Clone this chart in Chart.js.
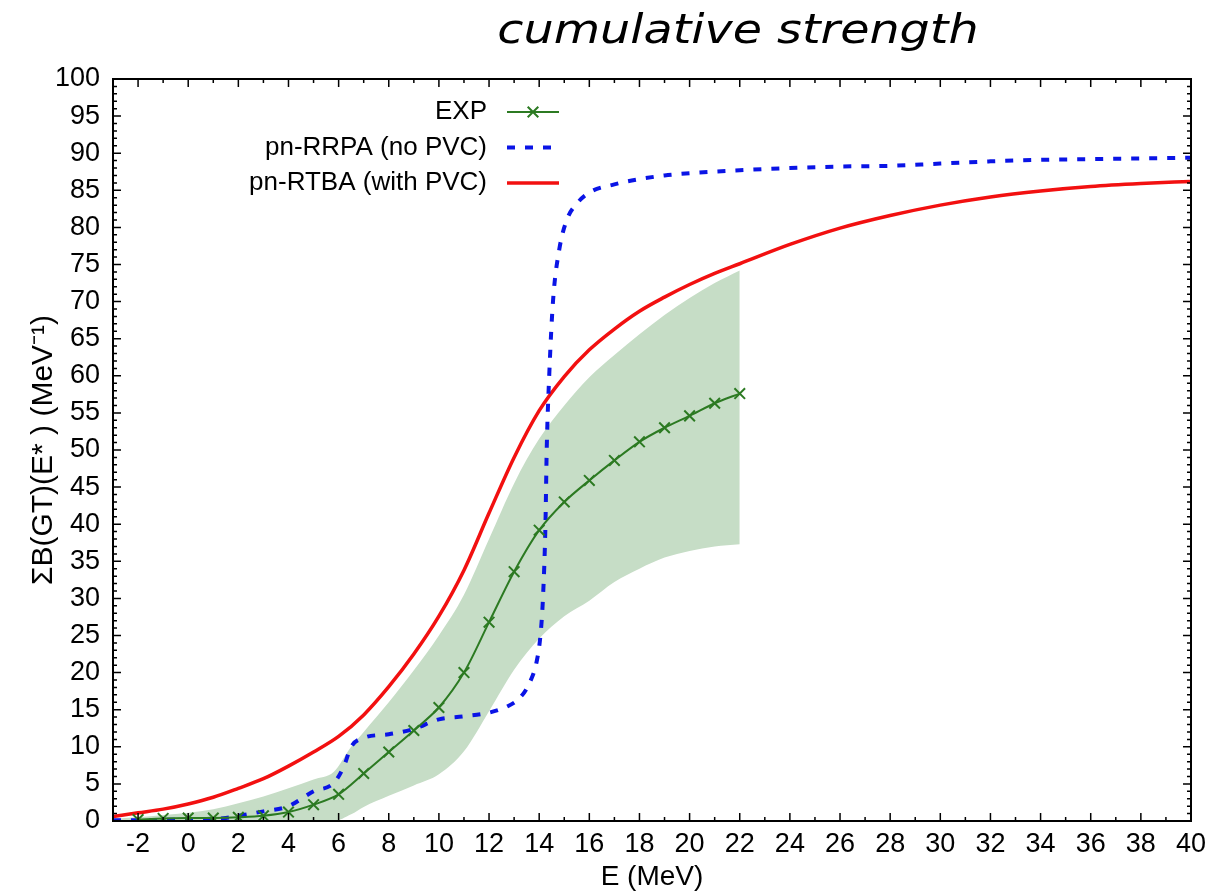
<!DOCTYPE html>
<html><head><meta charset="utf-8">
<script src="https://cdn.jsdelivr.net/npm/chart.js@4.4.0/dist/chart.umd.min.js"></script>
<style>
html,body{margin:0;padding:0;background:#fff;}
#wrap{position:relative;width:1231px;height:895px;overflow:hidden;}
#title{position:absolute;left:738px;top:5px;transform:translateX(-50%) scaleX(1.19);font-family:"DejaVu Sans",sans-serif;font-style:italic;font-size:40px;line-height:48px;white-space:nowrap;color:#000;}
</style></head><body>
<div id="wrap"><canvas id="c" width="1231" height="895"></canvas><div id="title">cumulative strength</div></div>
<script>
// ---- data ----
const xTickValues = [-2,0,2,4,6,8,10,12,14,16,18,20,22,24,26,28,30,32,34,36,38,40];
const yTickValues = [0,5,10,15,20,25,30,35,40,45,50,55,60,65,70,75,80,85,90,95,100];

const expLabel = 'EXP';
const expE = [-2,-1,0,1,2,3,4,5,6,7,8,9,10,11,12,13,14,15,16,17,18,19,20,21,22];
const expB = [0.2,0.35,0.4,0.4,0.5,0.7,1.2,2.2,3.6,6.4,9.3,12.2,15.3,20.0,26.8,33.6,39.2,43.0,45.9,48.6,51.1,53.0,54.6,56.3,57.6];

const rrpaLabel = 'pn-RRPA (no PVC)';
const rrpaE = [-3,-2,-1,0,1,1.5,2,3,4,5,5.8,6.2,6.5,7,8,9,10,11,12,12.7,13.2,13.6,13.9,14.05,14.15,14.25,14.3,14.4,14.55,14.8,15.1,15.5,16,17,18,19,20,22,24,26,28,30,32,34,36,38,40];
const rrpaB = [0.1,0.1,0.15,0.2,0.3,0.4,0.7,1.3,2.0,4.0,5.1,7.3,10.0,11.2,11.7,12.4,13.7,14.1,14.6,15.4,16.5,18.5,21.5,25,30,40,50,60,70,77,81,83.2,84.7,85.8,86.5,87.0,87.3,87.7,88.0,88.2,88.3,88.6,88.9,89.1,89.2,89.3,89.4];

const rtbaLabel = 'pn-RTBA (with PVC)';
const rtbaE = [-3,-2,-1,0,1,2,3,4,5,6,7,8,9,10,11,12,13,14,15,16,17,18,19,20,21,22,24,26,28,30,32,34,36,38,40];
const rtbaB = [0.6,1.1,1.6,2.3,3.2,4.4,5.7,7.4,9.3,11.4,14.3,18.1,22.5,27.6,33.8,41.5,49.0,55.3,59.9,63.5,66.3,68.7,70.6,72.3,73.8,75.1,77.7,79.9,81.6,83.0,84.1,84.9,85.5,85.9,86.2];

const bandE     = [-3,-2,-1,0,1,2,3,4,5,5.8,6.5,7,8,9,10,11,12,13,14,15,16,17,18,19,20,21,22];
const bandUpper = [0.3,0.5,0.8,1.1,1.6,2.4,3.3,4.4,5.6,6.6,10.0,12.0,16.0,20.3,25.0,30.5,38.0,45.5,51.5,56.0,59.8,62.8,65.6,68.2,70.5,72.5,74.2];
const bandLower = [0,0,0,0,0,0,0,0,0,0,0.9,1.9,3.4,4.8,6.3,9.4,14.8,20.4,24.6,27.6,29.7,32.2,34.0,35.5,36.4,37.0,37.3];

const xTitle = 'E (MeV)';
const yTitle = 'ΣB(GT)(E* ) (MeV⁻¹)';

// ---- helpers ----
const pts = (xs, ys) => xs.map((x, i) => ({x: x, y: ys[i]}));
const FONT = '"Liberation Sans", Arial, Helvetica, sans-serif';

const framePlugin = {
  id: 'frame',
  afterDraw(chart) {
    const {ctx, chartArea: a, scales: {x, y}} = chart;
    ctx.save();
    ctx.strokeStyle = '#000';
    ctx.lineWidth = 1.5;
    ctx.beginPath();
    for (let v = Math.ceil(x.min) + 1; v < x.max; v++) {
      const px = x.getPixelForValue(v);
      const len = (v % 2 === 0) ? 8 : 4;
      ctx.moveTo(px, a.bottom); ctx.lineTo(px, a.bottom - len);
      ctx.moveTo(px, a.top); ctx.lineTo(px, a.top + len);
    }
    for (let v = Math.ceil(y.min) + 1; v < y.max; v++) {
      const py = y.getPixelForValue(v);
      const len = (v % 5 === 0) ? 8 : 4;
      ctx.moveTo(a.left, py); ctx.lineTo(a.left + len, py);
      ctx.moveTo(a.right, py); ctx.lineTo(a.right - len, py);
    }
    ctx.stroke();
    ctx.lineWidth = 2;
    ctx.strokeRect(a.left, a.top, a.right - a.left, a.bottom - a.top);

    // legend (inside plot, text right-aligned, sample on the right)
    ctx.font = '26px ' + FONT;
    ctx.textAlign = 'right';
    ctx.textBaseline = 'middle';
    for (let k = 0; k < 3; k++) {
      const ds = chart.data.datasets[k];
      const yy = a.top + 33 + k * 35.5;
      ctx.fillStyle = '#000';
      ctx.fillText(ds.label, a.left + 374, yy);
      ctx.save();
      ctx.strokeStyle = ds.borderColor;
      ctx.lineWidth = ds.borderWidth;
      ctx.setLineDash(ds.borderDash || []);
      ctx.beginPath();
      ctx.moveTo(a.left + 394, yy);
      ctx.lineTo(a.left + 446, yy);
      ctx.stroke();
      ctx.restore();
      if (ds.pointStyle && ds.pointRadius > 0) {
        ctx.save();
        ctx.strokeStyle = ds.pointBorderColor;
        ctx.lineWidth = ds.pointBorderWidth;
        Chart.helpers.drawPoint(ctx, {pointStyle: ds.pointStyle, radius: ds.pointRadius, borderWidth: ds.pointBorderWidth, rotation: 0}, a.left + 420, yy);
        ctx.restore();
      }
    }
    ctx.restore();
  }
};

const green = '#2c7a22';
const blue = '#0a14e6';
const red = '#f21010';
const bandColor = '#c6ddc6';

new Chart(document.getElementById('c'), {
  type: 'line',
  data: {
    datasets: [
      {label: expLabel, data: pts(expE, expB), borderColor: green, borderWidth: 2, tension: 0.3,
       pointStyle: 'crossRot', pointRadius: 7.5, pointBorderColor: green, pointBorderWidth: 2, pointBackgroundColor: green, fill: false},
      {label: rrpaLabel, data: pts(rrpaE, rrpaB), borderColor: blue, borderWidth: 4, borderDash: [8, 10],
       cubicInterpolationMode: 'monotone', pointRadius: 0, fill: false},
      {label: rtbaLabel, data: pts(rtbaE, rtbaB), borderColor: red, borderWidth: 3.5,
       cubicInterpolationMode: 'monotone', pointRadius: 0, fill: false},
      {label: 'band upper', data: pts(bandE, bandUpper), borderWidth: 0, borderColor: 'rgba(0,0,0,0)', pointRadius: 0,
       cubicInterpolationMode: 'monotone', backgroundColor: bandColor, fill: '+1'},
      {label: 'band lower', data: pts(bandE, bandLower), borderWidth: 0, borderColor: 'rgba(0,0,0,0)', pointRadius: 0,
       cubicInterpolationMode: 'monotone', fill: false}
    ]
  },
  options: {
    responsive: false,
    animation: false,
    devicePixelRatio: 1,
    layout: {padding: {top: 79, right: 40, left: 0, bottom: 0}},
    plugins: {legend: {display: false}, tooltip: {enabled: false}, title: {display: false}},
    scales: {
      x: {
        type: 'linear', min: -3, max: 40,
        grid: {display: false, drawTicks: false},
        border: {display: false},
        afterBuildTicks: s => { s.ticks = xTickValues.map(v => ({value: v})); },
        afterFit: s => { s.height = 74; },
        ticks: {color: '#000', font: {family: FONT, size: 27}, padding: 7, maxRotation: 0, autoSkip: false},
        title: {display: true, text: xTitle, color: '#000', font: {family: FONT, size: 28}, padding: {top: 0, bottom: 1}}
      },
      y: {
        type: 'linear', min: 0, max: 100,
        grid: {display: false, drawTicks: false},
        border: {display: false},
        afterBuildTicks: s => { s.ticks = yTickValues.map(v => ({value: v})); },
        afterFit: s => { s.width = 113; },
        ticks: {color: '#000', font: {family: FONT, size: 27}, padding: 13, autoSkip: false},
        title: {display: true, text: yTitle, color: '#000', font: {family: FONT, size: 30}, padding: {top: 26, bottom: 0}}
      }
    }
  },
  plugins: [framePlugin]
});
</script>
</body></html>
